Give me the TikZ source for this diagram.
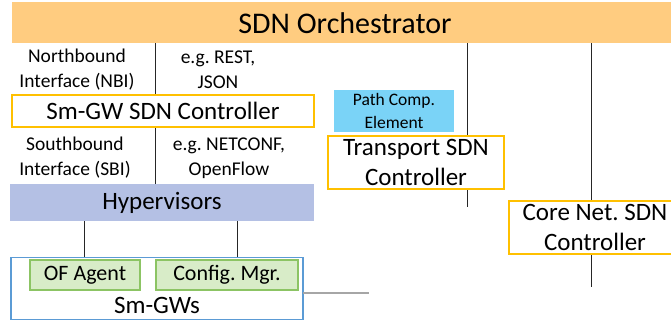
\documentclass[tikz,border=0pt]{standalone}
\usepackage{fontspec}
\setmainfont{Carlito}
\frenchspacing
\usetikzlibrary{backgrounds}
\definecolor{orchfill}{RGB}{255,204,128}
\definecolor{ctrlline}{RGB}{255,192,0}
\definecolor{hypfill}{RGB}{180,192,228}
\definecolor{pcefill}{RGB}{122,211,247}
\definecolor{gwline}{RGB}{91,155,213}
\definecolor{agentfill}{RGB}{216,236,200}
\definecolor{agentline}{RGB}{140,196,100}
\definecolor{linkgray}{RGB}{166,166,166}
\begin{document}
\begin{tikzpicture}[x=1pt,y=-1pt,
  boxbase/.style={inner sep=0pt, outer sep=0pt, align=center},
  ctrlbox/.style={boxbase, draw=ctrlline, line width=1.8pt, fill=white,
    font=\fontsize{25}{30.5}\selectfont},
  smalltxt/.style={inner sep=0pt, align=center, font=\fontsize{19.5}{25}\selectfont},
  bigtxt/.style={inner sep=0pt, align=center, font=\fontsize{25}{30}\selectfont},
  agentbox/.style={boxbase, draw=agentline, line width=1.2pt, fill=agentfill,
    font=\fontsize{22}{25}\selectfont},
  vline/.style={line width=1pt, black!85},
]
\useasboundingbox (0,0) rectangle (671,321);
\clip (0,0) rectangle (671,321);

% orchestrator
\node[boxbase, fill=orchfill, minimum width=668pt, minimum height=41pt] (orch) at (346,22.5) {};
\node[bigtxt, font=\fontsize{30}{30}\selectfont] (orchtxt) at (345,23) {SDN Orchestrator};

% interface texts
\node[smalltxt] (nbi) at (77,70) {Northbound\\Interface (NBI)};
\node[smalltxt] (rest) at (218,70) {e.g. REST,\\JSON};
\node[smalltxt] (sbi) at (75,158) {Southbound\\Interface (SBI)};
\node[smalltxt] (netconf) at (229,158) {e.g. NETCONF,\\OpenFlow};

% Sm-GW controller
\node[ctrlbox, minimum width=302pt, minimum height=32pt] (ctrl) at (163,111) {Sm-GW SDN Controller};

% hypervisors
\node[boxbase, fill=hypfill, minimum width=304pt, minimum height=37pt,
  font=\fontsize{25}{30}\selectfont] (hyp) at (162,202.5) {Hypervisors};

% Sm-GWs
\node[boxbase, draw=gwline, line width=1.8pt, fill=white, minimum width=292pt, minimum height=62pt] (smgw) at (157,288.5) {};
\node[bigtxt] (smgwtxt) at (157,305) {Sm-GWs};
\node[agentbox, minimum width=110pt, minimum height=30pt] (ofa) at (85,275) {OF Agent};
\node[agentbox, minimum width=142pt, minimum height=30pt] (cfg) at (227,275) {Config. Mgr.};

% path computation element
\node[boxbase, fill=pcefill, minimum width=120pt, minimum height=42pt,
  font=\fontsize{17.5}{23}\selectfont] (pce) at (394,111) {Path Comp.\\Element};

% transport controller
\node[ctrlbox, minimum width=176pt, minimum height=53pt] (trans) at (416,162.5) {Transport SDN\\Controller};

% core controller
\node[ctrlbox, minimum width=172pt, minimum height=53pt] (core) at (595,227.5) {Core Net. SDN\\Controller};

% free ends
\coordinate (tend) at (467,207);
\coordinate (cend) at (591,287);
\coordinate (gend) at (369,293);
\coordinate (nbx) at (155,0);
\coordinate (h1) at (84,0);
\coordinate (h2) at (237,0);

\begin{scope}[on background layer]
  \draw[vline] (orch.south -| nbx) -- (ctrl.north -| nbx);
  \draw[vline] (ctrl.south -| nbx) -- (hyp.north -| nbx);
  \draw[vline] (hyp.south -| h1) -- (smgw.north -| h1);
  \draw[vline] (hyp.south -| h2) -- (smgw.north -| h2);
  \draw[vline] (orch.south -| tend) -- (tend);
  \draw[vline] (orch.south -| cend) -- (cend);
\end{scope}
\draw[line width=2pt, linkgray] (smgw.east |- gend) -- (gend);
\end{tikzpicture}
\end{document}
